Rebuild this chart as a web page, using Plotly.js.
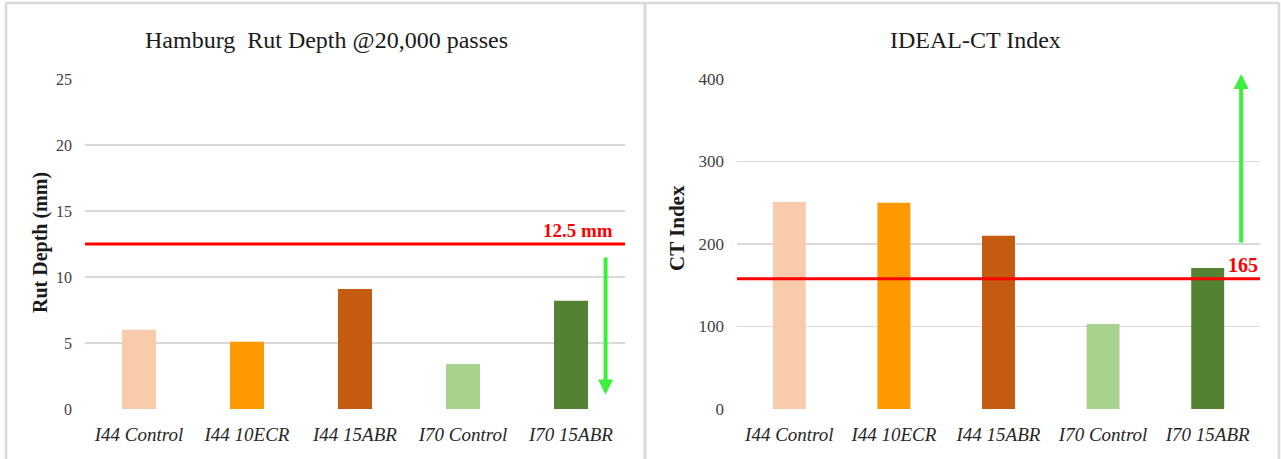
<!DOCTYPE html>
<html>
<head>
<meta charset="utf-8">
<script src="https://cdn.plot.ly/plotly-3.0.1.min.js"></script>
<style>html,body{margin:0;padding:0;background:#fff;}#chart{width:1281px;height:459px;}</style>
</head>
<body>
<div id="chart"></div>
<script>
// ---- data ----
const categories = ['I44 Control', 'I44 10ECR', 'I44 15ABR', 'I70 Control', 'I70 15ABR'];
const rutDepth = [6.0, 5.1, 9.1, 3.4, 8.2];
const ctIndex = [251, 250, 210, 103, 171];
const rutTicks = [0, 5, 10, 15, 20, 25];
const ctTicks = [0, 100, 200, 300, 400];
const rutLimit = 12.5;
const rutLimitLabel = '12.5 mm';
const ctLimit = 158;
const ctLimitLabel = '165';
const rutArrow = {pos: 4.32, from: 11.6, to: 1.1};
const ctArrow = {pos: 4.32, from: 200, to: 406};

// ---- styles ----
const barColors = ['#F8CBAD', '#FF9900', '#C55A11', '#A9D18E', '#548235'];
const W = 1281, H = 459;
const px = v => v / W;
const py = v => 1 - v / H;
const serif = 'Liberation Serif, Times New Roman, serif';

const traces = [
  {type: 'bar', x: categories, y: rutDepth, xaxis: 'x', yaxis: 'y',
   marker: {color: barColors, line: {width: 0}}, hoverinfo: 'x+y', showlegend: false},
  {type: 'bar', x: categories, y: ctIndex, xaxis: 'x2', yaxis: 'y2',
   marker: {color: barColors, line: {width: 0}}, hoverinfo: 'x+y', showlegend: false}
];

const yDomain = [py(409), py(79)];
const xCommon = {
  type: 'category', showgrid: false, zeroline: false, showline: false, ticks: '',
  tickfont: {family: serif, size: 19, color: '#262626', style: 'italic'},
  ticklabelstandoff: 12, fixedrange: true
};
const yCommon = {
  showgrid: true, gridcolor: '#d9d9d9', gridwidth: 1.5, zeroline: false, showline: false,
  ticks: '', ticklabelstandoff: 12, fixedrange: true
};

const layout = {
  width: W, height: H,
  margin: {l: 0, r: 0, t: 0, b: 0},
  paper_bgcolor: '#ffffff', plot_bgcolor: '#ffffff',
  bargap: 0.685,
  showlegend: false,
  xaxis: Object.assign({}, xCommon, {domain: [px(85), px(625)], anchor: 'y'}),
  yaxis: Object.assign({}, yCommon, {domain: yDomain, anchor: 'x', range: [0, 25],
    tickvals: rutTicks, tickfont: {family: serif, size: 16, color: '#404040'}}),
  xaxis2: Object.assign({}, xCommon, {domain: [px(737), px(1260)], anchor: 'y2'}),
  yaxis2: Object.assign({}, yCommon, {domain: yDomain, anchor: 'x2', range: [0, 400],
    tickvals: ctTicks, tickfont: {family: serif, size: 17, color: '#404040'}}),
  shapes: [
    // panel frames
    {type: 'line', xref: 'paper', yref: 'paper', x0: px(6), x1: px(6), y0: py(3), y1: py(470), line: {color: '#d9d9d9', width: 2.5}},
    {type: 'line', xref: 'paper', yref: 'paper', x0: px(6), x1: px(1279), y0: py(3), y1: py(3), line: {color: '#d9d9d9', width: 2.5}},
    {type: 'line', xref: 'paper', yref: 'paper', x0: px(645), x1: px(645), y0: py(3), y1: py(470), line: {color: '#d9d9d9', width: 3}},
    {type: 'line', xref: 'paper', yref: 'paper', x0: px(1279), x1: px(1279), y0: py(3), y1: py(470), line: {color: '#d9d9d9', width: 2.5}},
    // threshold lines
    {type: 'line', xref: 'x domain', yref: 'y', x0: 0, x1: 1, y0: rutLimit, y1: rutLimit, line: {color: '#FF0000', width: 3}},
    {type: 'line', xref: 'x2 domain', yref: 'y2', x0: 0, x1: 1, y0: ctLimit, y1: ctLimit, line: {color: '#FF0000', width: 3}}
  ],
  annotations: [
    // chart titles
    {xref: 'paper', yref: 'paper', x: px(326), y: py(40), xanchor: 'center', yanchor: 'middle', showarrow: false,
     text: 'Hamburg&nbsp; Rut Depth @20,000 passes', font: {family: serif, size: 24, color: '#1a1a1a'}},
    {xref: 'paper', yref: 'paper', x: px(975), y: py(40), xanchor: 'center', yanchor: 'middle', showarrow: false,
     text: 'IDEAL-CT Index', font: {family: serif, size: 24, color: '#1a1a1a'}},
    // y-axis titles
    {xref: 'paper', yref: 'paper', x: px(40), y: py(243), xanchor: 'center', yanchor: 'middle', showarrow: false, textangle: -90,
     text: '<b>Rut Depth (mm)</b>', font: {family: serif, size: 20, color: '#1a1a1a'}},
    {xref: 'paper', yref: 'paper', x: px(677), y: py(228), xanchor: 'center', yanchor: 'middle', showarrow: false, textangle: -90,
     text: '<b>CT Index</b>', font: {family: serif, size: 21, color: '#1a1a1a'}},
    // threshold labels
    {xref: 'x domain', yref: 'y', x: 1, y: rutLimit, xanchor: 'right', yanchor: 'bottom', xshift: -10, yshift: 1, showarrow: false,
     text: '<b>' + rutLimitLabel + '</b>', font: {family: serif, size: 19, color: '#FF0000'}},
    {xref: 'x2 domain', yref: 'y2', x: 1, y: ctLimit, xanchor: 'right', yanchor: 'bottom', xshift: 0, yshift: 1, showarrow: false,
     text: '<b>' + ctLimitLabel + '</b>', font: {family: serif, size: 20, color: '#FF0000'}},
    // green arrows
    {xref: 'x', yref: 'y', axref: 'x', ayref: 'y', x: rutArrow.pos, y: rutArrow.to, ax: rutArrow.pos, ay: rutArrow.from,
     text: '', showarrow: true, arrowhead: 2, arrowwidth: 4, arrowsize: 0.75, arrowcolor: '#3CF03C', standoff: 0, startstandoff: 0},
    {xref: 'x2', yref: 'y2', axref: 'x2', ayref: 'y2', x: ctArrow.pos, y: ctArrow.to, ax: ctArrow.pos, ay: ctArrow.from,
     text: '', showarrow: true, arrowhead: 2, arrowwidth: 4, arrowsize: 0.75, arrowcolor: '#3CF03C', standoff: 0, startstandoff: 0}
  ]
};

Plotly.newPlot('chart', traces, layout, {displayModeBar: false, staticPlot: true});
</script>
</body>
</html>
